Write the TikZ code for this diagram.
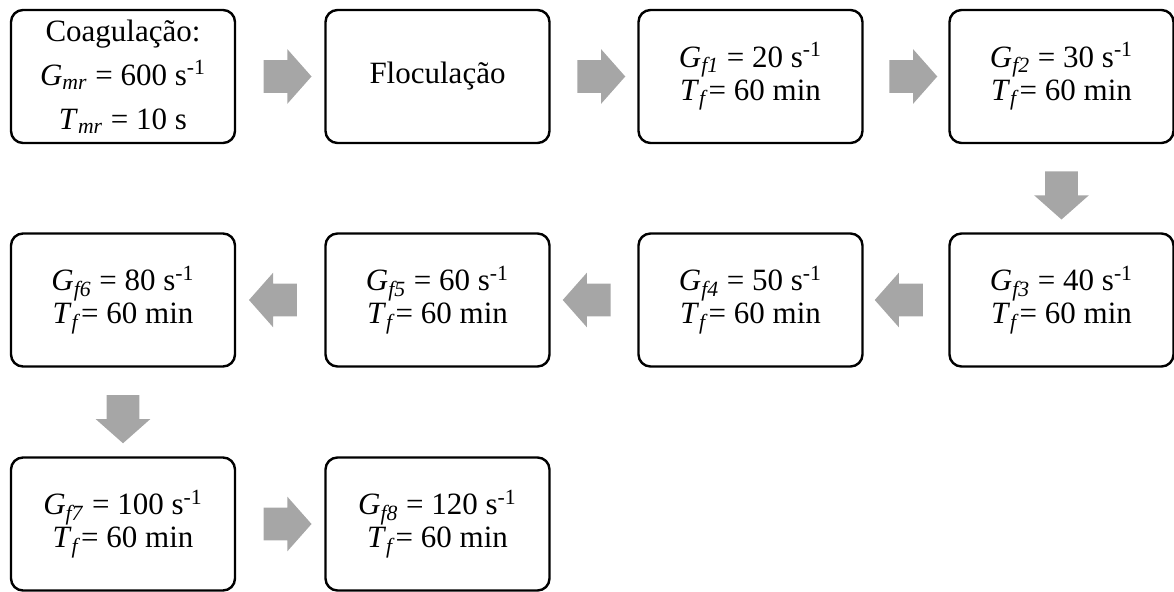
\documentclass[tikz,border=0pt]{standalone}
\usepackage{fontspec}
\setmainfont{Liberation Serif}
\usepackage{tikz}
\usetikzlibrary{shapes.arrows,calc}

\newcommand{\gf}[2]{\textit{G}\textsubscript{\textit{f#1}} = #2 s\textsuperscript{-1}}
\newcommand{\tf}{\textit{T}\textsubscript{\textit{f}}= 60 min}

\begin{document}
\begin{tikzpicture}[x=0.5pt, y=-0.5pt,
		box_style/.style={draw=black,line width=1.2pt,rounded corners=6pt,minimum width=112pt,minimum height=66.5pt,align=center,inner sep=0pt,font=\fontsize{15.5}{16.5}\selectfont},
		arrow_style/.style={single arrow,fill=black!35,draw=none,inner xsep=0pt,inner ysep=8pt,minimum height=24pt,single arrow head extend=5.5pt,single arrow tip angle=97},
		right_style/.style={arrow_style},
		left_style/.style={arrow_style,shape border rotate=180},
		down_style/.style={arrow_style,inner xsep=8pt,inner ysep=0pt,shape border rotate=270}]

		\useasboundingbox (0,0) rectangle (1174,592);

		\node[box_style,font=\fontsize{15.5}{22}\selectfont] (n0) at (123,76.5) {Coagulação:\\ \textit{G}\textsubscript{\textit{mr}} = 600 s\textsuperscript{-1}\\ \textit{T}\textsubscript{\textit{mr}} = 10 s};
		\node[box_style] (n1) at (437.5,76.5) {Floculação};
		\node[box_style] (n2) at (750.5,76.5) {\gf{1}{20}\\ \tf};
		\node[box_style] (n3) at (1061.5,76.5) {\gf{2}{30}\\ \tf};
		\node[box_style] (n4) at (1061.5,300) {\gf{3}{40}\\ \tf};
		\node[box_style] (n5) at (750.5,300) {\gf{4}{50}\\ \tf};
		\node[box_style] (n6) at (437.5,300) {\gf{5}{60}\\ \tf};
		\node[box_style] (n7) at (123,300) {\gf{6}{80}\\ \tf};
		\node[box_style] (n8) at (123,524) {\gf{7}{100}\\ \tf};
		\node[box_style] (n9) at (437.5,524) {\gf{8}{120}\\ \tf};

		% block arrows halfway between the boxes
		\node[right_style] (a0) at ($(n0.east)!0.5!(n1.west)$) {};
		\node[right_style] (a1) at ($(n1.east)!0.5!(n2.west)$) {};
		\node[right_style] (a2) at ($(n2.east)!0.5!(n3.west)$) {};
		\node[down_style] (a3) at ($(n3.south)!0.5!(n4.north)$) {};
		\node[left_style] (a4) at ($(n4.west)!0.5!(n5.east)$) {};
		\node[left_style] (a5) at ($(n5.west)!0.5!(n6.east)$) {};
		\node[left_style] (a6) at ($(n6.west)!0.5!(n7.east)$) {};
		\node[down_style] (a7) at ($(n7.south)!0.5!(n8.north)$) {};
		\node[right_style] (a8) at ($(n8.east)!0.5!(n9.west)$) {};
\end{tikzpicture}
\end{document}
